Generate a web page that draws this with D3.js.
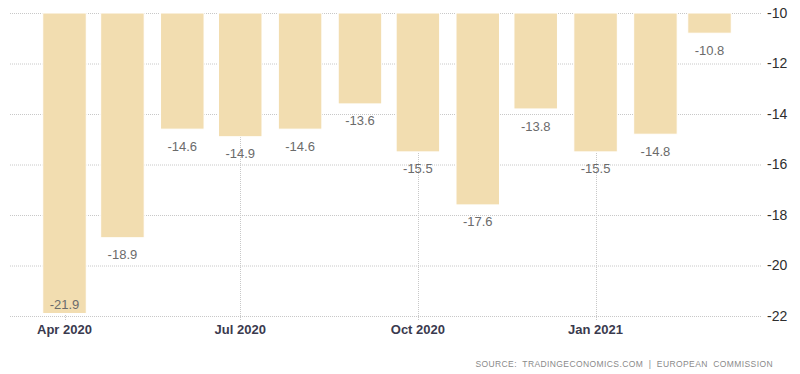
<!DOCTYPE html>
<html>
<head>
<meta charset="utf-8">
<script src="https://cdn.jsdelivr.net/npm/d3@7"></script>
<style>
  body { margin: 0; background: #fff; }
  svg { display: block; font-family: 'Liberation Sans', Arial, sans-serif; }
</style>
</head>
<body>
<div class="js-canvas"></div>
<script>
'use strict';

// monthly values, Apr 2020 .. Mar 2021
const months = ['2020-04', '2020-05', '2020-06', '2020-07', '2020-08', '2020-09',
    '2020-10', '2020-11', '2020-12', '2021-01', '2021-02', '2021-03'];
const values = [-21.9, -18.9, -14.6, -14.9, -14.6, -13.6, -15.5, -17.6, -13.8, -15.5, -14.8, -10.8];
const yTicks = [-10, -12, -14, -16, -18, -20, -22];
const sourceText = 'SOURCE:  TRADINGECONOMICS.COM  |  EUROPEAN  COMMISSION';

const config = {
    width: 800,
    height: 374,
    top: 13,
    bottom: 316,
    gridLeft: 10,
    gridRight: 762,
    barWidth: 43.5,
    barColor: '#f2ddb0',
    gridColor: '#c8c8c8'
};

const parse = d3.timeParse('%Y-%m');
const data = months.map((m, i) => ({ date: parse(m), value: values[i] }));

const svg = d3.select('.js-canvas')
    .append('svg')
    .attr('width', config.width)
    .attr('height', config.height);

const x = d3.scaleTime()
    .domain(d3.extent(data, d => d.date))
    .range([64.5, 709.5]);

const y = d3.scaleLinear()
    .domain([-10, -22])
    .range([config.top, config.bottom]);

const xTicks = x.ticks(d3.timeMonth.every(3));

// horizontal grid
svg.append('g')
    .selectAll('line')
    .data(yTicks)
    .enter().append('line')
    .attr('x1', config.gridLeft)
    .attr('x2', config.gridRight)
    .attr('y1', d => y(d) + 0.5)
    .attr('y2', d => y(d) + 0.5)
    .attr('stroke', config.gridColor)
    .attr('stroke-dasharray', '1,1');

// vertical grid at tick dates
svg.append('g')
    .selectAll('line')
    .data(xTicks)
    .enter().append('line')
    .attr('x1', d => Math.round(x(d)) + 0.5)
    .attr('x2', d => Math.round(x(d)) + 0.5)
    .attr('y1', config.top)
    .attr('y2', config.bottom + 4)
    .attr('stroke', config.gridColor)
    .attr('stroke-dasharray', '1,1');

// bars hang down from the -10 line
svg.append('g')
    .selectAll('rect')
    .data(data)
    .enter().append('rect')
    .attr('x', d => x(d.date) - config.barWidth / 2)
    .attr('width', config.barWidth)
    .attr('y', y(-10))
    .attr('height', d => y(d.value) - y(-10))
    .attr('fill', config.barColor)
    .attr('stroke', '#fff')
    .attr('stroke-width', 1);

// value labels below each bar, inside when it would hit the axis
svg.append('g')
    .selectAll('text')
    .data(data)
    .enter().append('text')
    .attr('x', d => x(d.date))
    .attr('y', d => {
        const b = y(d.value);
        return b + 17 > config.bottom - 8 ? b - 9 : b + 17;
    })
    .attr('dy', '0.35em')
    .attr('text-anchor', 'middle')
    .attr('font-size', 13)
    .attr('fill', '#6b6b6b')
    .text(d => d.value.toFixed(1));

// y axis labels on the right
svg.append('g')
    .selectAll('text')
    .data(yTicks)
    .enter().append('text')
    .attr('x', 767)
    .attr('y', d => y(d))
    .attr('dy', '0.35em')
    .attr('font-size', 14)
    .attr('fill', '#2e2e2e')
    .text(d => d);

// x axis labels
const fmt = d3.timeFormat('%b %Y');
svg.append('g')
    .selectAll('text')
    .data(xTicks)
    .enter().append('text')
    .attr('x', d => x(d))
    .attr('y', 329)
    .attr('dy', '0.35em')
    .attr('text-anchor', 'middle')
    .attr('font-size', 13)
    .attr('font-weight', 'bold')
    .attr('fill', '#3a3a4e')
    .text(fmt);

svg.append('text')
    .attr('x', 773)
    .attr('y', 367)
    .attr('text-anchor', 'end')
    .attr('font-size', 8.5)
    .attr('letter-spacing', 0.4)
    .attr('fill', '#8a8a8a')
    .style('white-space', 'pre')
    .text(sourceText);
</script>
</body>
</html>
